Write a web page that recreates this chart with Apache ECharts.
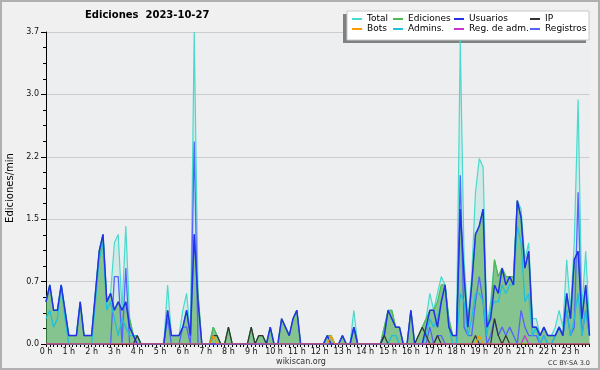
<!DOCTYPE html>
<html><head><meta charset="utf-8">
<script src="https://cdn.jsdelivr.net/npm/echarts@6/dist/echarts.min.js"></script>
<style>html,body{margin:0;padding:0;background:#f0f0f0}#c{width:600px;height:370px}</style>
</head><body><div id="c"></div>
<script>
// Tick labels (one per hour, 6 ten-minute slots per hour)
const hourLabels = ['0 h','1 h','2 h','3 h','4 h','5 h','6 h','7 h','8 h','9 h','10 h','11 h',
  '12 h','13 h','14 h','15 h','16 h','17 h','18 h','19 h','20 h','21 h','22 h','23 h'];
const yTickValues = [0, 0.74, 1.48, 2.22, 2.96, 3.7];

// Series values (edits per minute, one value per 10-minute slot)
const total = [
0.5,0.7,0.4,0.4,0.7,0.4, 0.1,0.1,0.1,0.5,0.1,0.1, 0.1,0.6,1.1,1.3,0.5,0.6, 1.2,1.3,0.4,1.4,0.3,0.1,
0.1,0,0,0,0,0, 0,0,0.7,0.1,0.1,0.1, 0.4,0.6,0.1,3.7,0.6,0, 0,0,0.2,0.1,0,0,
0.2,0,0,0,0,0, 0.2,0,0.1,0.1,0,0.2, 0,0,0.3,0.2,0.1,0.3, 0.4,0,0,0,0,0,
0,0,0.1,0.1,0,0, 0.1,0,0,0.4,0,0, 0,0,0,0,0,0.2, 0.4,0.4,0.2,0.2,0,0,
0.4,0,0.1,0.2,0.3,0.6, 0.4,0.6,0.8,0.7,0.3,0.1, 0.1,3.6,1.0,0.3,0.8,1.8, 2.2,2.1,0.2,0.5,1.0,0.8,
0.9,0.8,0.8,0.8,1.7,1.6, 1.0,1.2,0.3,0.3,0.1,0.2, 0.1,0.1,0.2,0.4,0.2,1.0, 0.4,1.2,2.9,0.4,1.1,0.2];
const edits = [
0.5,0.7,0.4,0.4,0.7,0.4, 0.1,0.1,0.1,0.5,0.1,0.1, 0.1,0.6,1.1,1.3,0.5,0.6, 0.4,0.5,0.4,0.5,0.3,0.1,
0.1,0,0,0,0,0, 0,0,0.4,0.1,0.1,0.1, 0.2,0.4,0.1,1.3,0.6,0, 0,0,0.2,0.1,0,0,
0.2,0,0,0,0,0, 0.2,0,0.1,0.1,0,0.2, 0,0,0.3,0.2,0.1,0.3, 0.4,0,0,0,0,0,
0,0,0.1,0.1,0,0, 0.1,0,0,0.2,0,0, 0,0,0,0,0,0.2, 0.4,0.4,0.2,0.2,0,0,
0.4,0,0.1,0.2,0.3,0.4, 0.4,0.5,0.7,0.7,0.3,0.1, 0.1,1.6,0.8,0.2,0.7,1.3, 1.4,1.6,0.2,0.4,1.0,0.8,
0.9,0.8,0.8,0.8,1.7,1.5, 0.9,1.1,0.2,0.2,0.1,0.2, 0.1,0.1,0.1,0.2,0.1,0.6, 0.3,1.0,1.1,0.3,0.7,0.1];
const users = [
0.5,0.7,0.4,0.4,0.7,0.4, 0.1,0.1,0.1,0.5,0.1,0.1, 0.1,0.6,1.1,1.3,0.5,0.6, 0.4,0.5,0.4,0.5,0.2,0.1,
0,0,0,0,0,0, 0,0,0.4,0.1,0.1,0.1, 0.2,0.4,0.1,1.3,0.5,0, 0,0,0,0,0,0,
0,0,0,0,0,0, 0,0,0,0,0,0.2, 0,0,0.3,0.2,0.1,0.3, 0.4,0,0,0,0,0,
0,0,0.1,0,0,0, 0.1,0,0,0.2,0,0, 0,0,0,0,0,0.1, 0.4,0.3,0.2,0.2,0,0,
0.4,0,0,0,0.2,0.4, 0.4,0.2,0.5,0.7,0.2,0.1, 0.1,1.6,0.8,0.2,0.7,1.3, 1.4,1.6,0.2,0.3,0.7,0.6,
0.9,0.7,0.8,0.7,1.7,1.5, 0.9,1.1,0.2,0.2,0.1,0.2, 0.1,0.1,0.1,0.2,0.1,0.6, 0.3,1.0,1.1,0.3,0.7,0.1];
const ip = [
0,0,0,0,0,0, 0,0,0,0,0,0, 0,0,0,0,0,0, 0,0,0,0,0,0,
0.1,0,0,0,0,0, 0,0,0,0,0,0, 0,0,0,0,0,0, 0,0,0.1,0.1,0,0,
0.2,0,0,0,0,0, 0.2,0,0.1,0.1,0,0, 0,0,0,0,0,0, 0,0,0,0,0,0,
0,0,0,0,0,0, 0,0,0,0,0,0, 0,0,0,0,0,0.1, 0,0,0,0,0,0,
0,0,0.1,0.2,0.1,0, 0,0.1,0,0,0,0, 0,0,0,0,0,0.1, 0,0,0,0,0.3,0.1,
0,0.1,0,0,0,0, 0,0,0,0,0,0, 0,0,0,0,0,0, 0,0,0,0,0,0];
const bots = [
0,0,0,0,0,0, 0,0,0,0,0,0, 0,0,0,0,0,0, 0,0,0,0,0,0,
0,0,0,0,0,0, 0,0,0,0,0,0, 0,0,0,0,0,0, 0,0,0.1,0,0,0,
0,0,0,0,0,0, 0,0,0,0,0,0, 0,0,0,0,0,0, 0,0,0,0,0,0,
0,0,0,0.1,0,0, 0,0,0,0,0,0, 0,0,0,0,0,0, 0,0,0,0,0,0,
0,0,0,0,0,0, 0,0,0,0,0,0, 0,0,0,0,0,0, 0.1,0,0,0,0,0,
0,0,0,0,0,0, 0,0,0,0,0,0, 0,0,0,0,0,0, 0,0,0,0,0,0];
const admins = [
0.3,0.4,0.2,0.3,0.7,0.3, 0,0,0,0,0,0, 0,0.5,1.0,1.2,0.4,0.5, 0.3,0.1,0.3,0.2,0.1,0.1,
0.1,0,0,0,0,0, 0,0,0,0,0,0, 0,0,0,0,0,0, 0,0,0,0,0,0,
0,0,0,0,0,0, 0,0,0,0,0,0, 0,0,0,0,0,0, 0,0,0,0,0,0,
0,0,0,0,0,0, 0,0,0,0,0,0, 0,0,0,0,0,0, 0,0.1,0.1,0,0,0,
0,0,0,0,0.1,0.3, 0.2,0.3,0.5,0.7,0.2,0, 0,0.6,0.5,0.1,0.3,0.6, 0.6,0.5,0.1,0.4,0.5,0.5,
0.7,0.6,0.7,0.7,1.4,1.2, 0.5,0.6,0.1,0.2,0,0.1, 0,0,0.1,0.2,0.1,0.4, 0.1,0.3,0.6,0.1,0.4,0.1];
const adminLogs = [
0,0,0,0,0,0, 0,0,0,0,0,0, 0,0,0,0,0,0, 0,0,0,0,0,0,
0,0,0,0,0,0, 0,0,0,0,0,0, 0,0,0,0,0,0, 0,0,0,0,0,0,
0,0,0,0,0,0, 0,0,0,0,0,0, 0,0,0,0,0,0, 0,0,0,0,0,0,
0,0,0,0,0,0, 0,0,0,0,0,0, 0,0,0,0,0,0, 0,0,0,0,0,0,
0,0,0,0,0,0, 0,0,0,0,0,0, 0,0,0,0,0,0, 0,0,0,0,0,0,
0,0,0,0,0,0, 0.1,0,0,0,0,0, 0,0,0,0,0,0, 0,0,0,0,0,0];
const logs = [
0,0,0,0,0,0, 0,0,0,0,0,0, 0,0,0,0,0,0, 0.8,0.8,0,0.9,0,0,
0,0,0,0,0,0, 0,0,0.3,0,0,0, 0.2,0.2,0,2.4,0,0, 0,0,0,0,0,0,
0,0,0,0,0,0, 0,0,0,0,0,0, 0,0,0,0,0,0, 0,0,0,0,0,0,
0,0,0,0,0,0, 0,0,0,0.2,0,0, 0,0,0,0,0,0, 0,0,0,0,0,0,
0,0,0,0,0,0.2, 0,0.1,0.1,0,0,0, 0,2.0,0.2,0.1,0.1,0.5, 0.8,0.5,0,0.1,0.3,0.1,
0.2,0.1,0.2,0.1,0,0.4, 0.2,0.1,0.1,0.1,0,0.1, 0,0,0.1,0.2,0.1,0.4, 0.1,0.2,1.8,0.1,0.4,0.1];

const categories = [];
hourLabels.forEach((h, hi) => { for (let k = 0; k < 6; k++) categories.push(hi + ':' + k + '0'); });

const FONT = 'DejaVu Sans';
function mk(name, data, color, width, z, area) {
  const s = { name, type: 'line', data, color, z, symbol: 'none', smooth: false,
    lineStyle: { width, color }, emphasis: { disabled: true }, silent: true };
  if (area) s.areaStyle = { color: area, opacity: 1 };
  return s;
}
const legendCommon = { orient: 'vertical', top: 14, itemWidth: 10, itemHeight: 2, itemGap: 0,
  icon: 'rect', selectedMode: false, padding: 0, z: 10,
  textStyle: { fontFamily: FONT, fontSize: 9, color: '#000', lineHeight: 10 } };

const chart = echarts.init(document.getElementById('c'));
chart.setOption({
  animation: false,
  backgroundColor: '#f0f0f0',
  title: { text: 'Ediciones  2023-10-27', left: 85, top: 10, padding: 0,
    textStyle: { fontFamily: FONT, fontSize: 10, fontWeight: 'bold', color: '#000' } },
  legend: [
    Object.assign({ left: 352, data: ['Total', 'Bots'] }, legendCommon),
    Object.assign({ left: 393, data: ['Ediciones', 'Admins.'] }, legendCommon),
    Object.assign({ left: 454, data: ['Usuarios', 'Reg. de adm.'] }, legendCommon),
    Object.assign({ left: 530, data: ['IP', 'Registros'] }, legendCommon)
  ],
  grid: { left: 46, right: 10.5, top: 32, bottom: 26, show: true, backgroundColor: '#eceef0', borderWidth: 0 },
  xAxis: { type: 'category', data: categories, boundaryGap: false,
    axisLine: { lineStyle: { color: '#000', width: 1 } },
    axisTick: { interval: 0, length: 3, lineStyle: { color: '#000' } },
    axisLabel: { interval: 0, margin: 4, fontFamily: FONT, fontSize: 8, color: '#111',
      formatter: (v, i) => (i % 6 === 0 ? hourLabels[i / 6] : '') },
    splitLine: { show: false } },
  yAxis: { type: 'value', min: yTickValues[0], max: yTickValues[yTickValues.length - 1], interval: yTickValues[1],
    axisLine: { show: true, lineStyle: { color: '#000' } },
    axisTick: { show: true, length: 5, lineStyle: { color: '#000' } },
    minorTick: { show: true, splitNumber: 4, length: 3, lineStyle: { color: '#000' } },
    axisLabel: { margin: 7, fontFamily: FONT, fontSize: 8, color: '#111', formatter: v => v.toFixed(1) },
    splitLine: { lineStyle: { color: '#cccccc', width: 1 } } },
  graphic: [
    { type: 'rect', z: 100, silent: true, shape: { x: 1, y: 1, width: 598, height: 368 },
      style: { fill: 'none', stroke: '#b0b0b0', lineWidth: 2 } },
    { type: 'rect', z: 1, silent: true, shape: { x: 343, y: 14, width: 243, height: 29 }, style: { fill: '#808080' } },
    { type: 'rect', z: 2, silent: true, shape: { x: 347, y: 11, width: 242, height: 29 },
      style: { fill: '#ffffff', stroke: '#c8c8c8', lineWidth: 1 } },
    { type: 'text', z: 5, silent: true, x: 10, y: 188, rotation: Math.PI / 2,
      style: { text: 'Ediciones/min', fontFamily: FONT, fontSize: 10, fill: '#000', align: 'center', verticalAlign: 'middle' } },
    { type: 'text', z: 5, silent: true, x: 301, y: 362,
      style: { text: 'wikiscan.org', fontFamily: FONT, fontSize: 8, fill: '#333', align: 'center', verticalAlign: 'middle' } },
    { type: 'text', z: 5, silent: true, x: 590, y: 363,
      style: { text: 'CC BY-SA 3.0', fontFamily: FONT, fontSize: 6.5, fill: '#333', align: 'right', verticalAlign: 'middle' } }
  ],
  series: [
    mk('Total', total, '#48dacc', 1.2, 2, 'rgba(110,215,195,0.2)'),
    mk('Ediciones', edits, '#4fb84f', 1.2, 3, 'rgba(70,165,70,0.55)'),
    mk('Registros', logs, '#5563ff', 1.3, 4),
    mk('Admins.', admins, '#1fc0dc', 1.3, 5),
    mk('Usuarios', users, '#2233e6', 1.5, 6),
    mk('IP', ip, '#333333', 1.2, 7),
    mk('Bots', bots, '#ff9900', 1.2, 8),
    mk('Reg. de adm.', adminLogs, '#cc33cc', 1.2, 9)
  ]
});
</script></body></html>
